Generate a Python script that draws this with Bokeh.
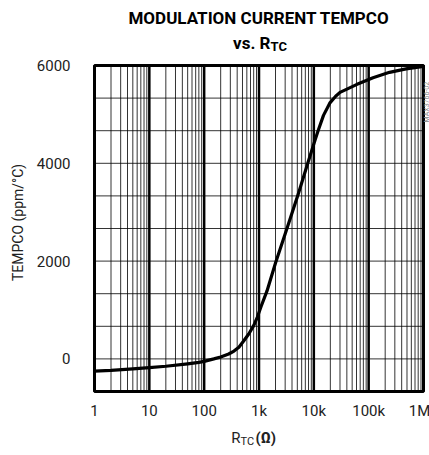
import math
from bokeh.plotting import figure
from bokeh.models import Range1d
from bokeh.core.properties import value
from bokeh.embed import file_html
from bokeh.resources import INLINE

# ---- data ----
r_tc = [1, 2, 5, 10, 20, 50, 80, 100, 150, 200, 280, 350, 430, 520, 650, 800, 930,
        1100, 1400, 2000, 3200, 5200, 7900, 10500, 12000, 15000, 19500, 25000,
        30000, 60000, 120000, 240000, 480000, 1000000]
tempco = [-250, -235, -205, -180, -150, -100, -70, -50, 0, 40, 100, 160, 240, 360, 510,
          680, 850, 1080, 1390, 1960, 2650, 3370, 4030, 4470, 4670, 4980, 5230, 5370,
          5450, 5610, 5750, 5860, 5930, 5980]

x_ticks = [1, 10, 100, 1000, 10000, 100000, 1000000]
x_tick_labels = ["1", "10", "100", "1k", "10k", "100k", "1M"]
y_ticks = [0, 2000, 4000, 6000]
y_tick_labels = ["0", "2000", "4000", "6000"]
x_min, x_max = 1, 1000000
y_min, y_max = -2000 / 3, 6000
y_grid_step = 2000 / 3

title_1 = "MODULATION CURRENT TEMPCO"
title_2 = "vs. R"
title_2_sub = "TC"
y_label = "TEMPCO (ppm/°C)"
x_label = "R"
x_label_sub = "TC"
x_label_unit = "(Ω)"
side_code = "MAX3766-02"

FONT = value("Roboto")

# ---- layout (picture pixels) ----
W, H = 429, 455
CAN_L, CAN_T = 0, 0
BOX_L, BOX_R, BOX_T, BOX_B = 94, 423, 65, 391
decade_px = (BOX_R - BOX_L) / math.log10(x_max / x_min)
upp = (y_max - y_min) / (BOX_B - BOX_T)

def dx(px):
    return x_min * 10 ** ((px - BOX_L) / decade_px)

def dy(py):
    return y_max - (py - BOX_T) * upp

p = figure(width=W, height=H, x_axis_type="log",
           x_range=Range1d(dx(CAN_L), dx(CAN_L + W)),
           y_range=Range1d(dy(CAN_T + H), dy(CAN_T)),
           x_axis_location=None, y_axis_location=None,
           output_backend="svg", toolbar_location=None, min_border=0)
p.outline_line_color = None
p.background_fill_color = "white"
p.border_fill_color = "white"
p.grid.visible = False

# grid
minor = [m * 10 ** d for d in range(6) for m in range(2, 10)]
p.segment(x0=minor, x1=minor, y0=y_min, y1=y_max, line_color="black",
          line_width=1, line_alpha=0.8)
p.segment(x0=x_ticks, x1=x_ticks, y0=y_min, y1=y_max, line_color="black",
          line_width=2.5)
n_y = int(round((y_max - y_min) / y_grid_step))
y_lines = [y_min + k * y_grid_step for k in range(n_y + 1)]
p.segment(x0=x_min, x1=x_max, y0=y_lines, y1=y_lines, line_color="black",
          line_width=1, line_alpha=0.8)
# plot box
p.quad(left=x_min, right=x_max, bottom=y_min, top=y_max, fill_color=None,
       line_color="black", line_width=3)

# curve
p.line(r_tc, tempco, line_color="black", line_width=3.2, line_join="round",
       line_cap="round")

# tick labels
p.text(x=x_ticks, y=dy(410), text=x_tick_labels, text_font=FONT,
       text_font_size="15px", text_align="center", text_baseline="middle",
       text_color="#222222", x_offset=[0, 0, 0, 0, 0, 0, -4])
p.text(x=dx(70), y=y_ticks, text=y_tick_labels, text_font=FONT,
       text_font_size="15px", text_align="right", text_baseline="middle",
       text_color="#222222")

# axis labels
p.text(x=dx(17), y=dy(222), text=[y_label], text_font=FONT, text_font_size="14px",
       text_align="center", text_baseline="middle", angle=math.pi / 2,
       text_color="#222222")
p.text(x=dx(240), y=dy(437), text=[x_label], text_font=FONT, text_font_size="15px",
       text_align="right", text_baseline="middle", text_color="#222222")
p.text(x=dx(240), y=dy(441), text=[x_label_sub], text_font=FONT,
       text_font_size="11px", text_align="left", text_baseline="middle",
       text_color="#222222")
p.text(x=dx(255), y=dy(437), text=[x_label_unit], text_font=FONT,
       text_font_size="15px", text_font_style="bold", text_align="left",
       text_baseline="middle", text_color="#222222")

# title
p.text(x=dx(258.5), y=dy(17), text=[title_1], text_font=FONT, text_font_size="17px",
       text_font_style="bold", text_align="center", text_baseline="middle",
       text_color="black")
p.text(x=dx(270), y=dy(42), text=[title_2], text_font=FONT, text_font_size="17px",
       text_font_style="bold", text_align="right", text_baseline="middle",
       text_color="black")
p.text(x=dx(270), y=dy(46), text=[title_2_sub], text_font=FONT, text_font_size="13px",
       text_font_style="bold", text_align="left", text_baseline="middle",
       text_color="black")

# side code
p.text(x=dx(426), y=dy(122), text=[side_code], text_font=FONT, text_font_size="7px",
       text_align="left", text_baseline="middle", angle=math.pi / 2,
       text_color="#888888")

open("out.html", "w").write(file_html(p, INLINE))
